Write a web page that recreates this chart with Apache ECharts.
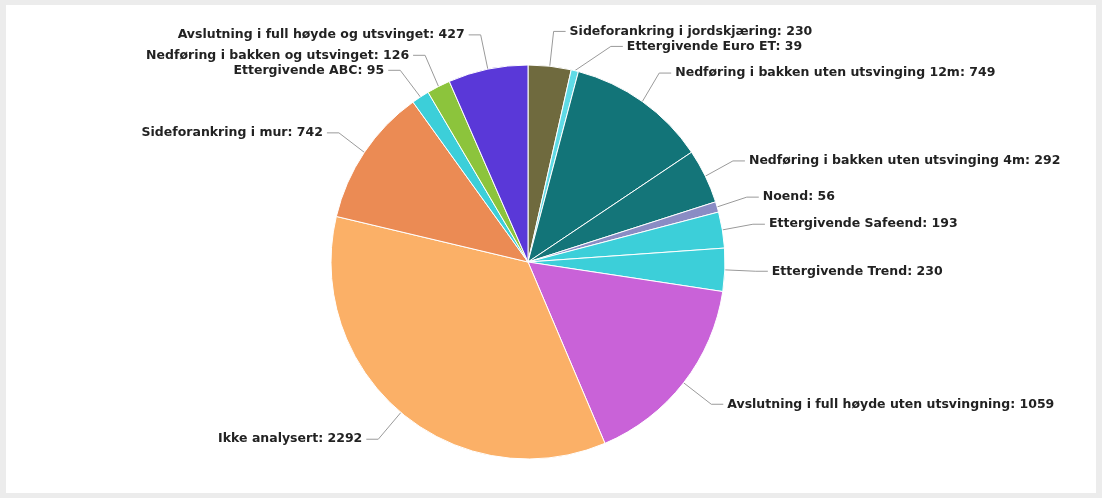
<!DOCTYPE html>
<html>
<head>
<meta charset="utf-8">
<script src="https://cdn.jsdelivr.net/npm/echarts@6/dist/echarts.min.js"></script>
<style>
  html, body { margin: 0; padding: 0; background: #ececec; }
  #chart { position: absolute; left: 6px; top: 5px; width: 1090px; height: 488px; background: #ffffff; }
</style>
</head>
<body>
<div id="chart"></div>
<script>
// Guardrail types, clockwise from 12 o'clock
const categories = [
  'Sideforankring i jordskjæring',
  'Ettergivende Euro ET',
  'Nedføring i bakken uten utsvinging 12m',
  'Nedføring i bakken uten utsvinging 4m',
  'Noend',
  'Ettergivende Safeend',
  'Ettergivende Trend',
  'Avslutning i full høyde uten utsvingning',
  'Ikke analysert',
  'Sideforankring i mur',
  'Ettergivende ABC',
  'Nedføring i bakken og utsvinget',
  'Avslutning i full høyde og utsvinget'
];
const counts = [230, 39, 749, 292, 56, 193, 230, 1059, 2292, 742, 95, 126, 427];
const colors = [
  '#6f6a3e', '#5fdbe6', '#127478', '#147579', '#8a8cc4', '#3ccfd9', '#3ccfd9',
  '#c962d8', '#fbb067', '#eb8b54', '#3ccfd9', '#8cc43c', '#5a38d8'
];

const chart = echarts.init(document.getElementById('chart'));
chart.setOption({
  animation: false,
  series: [{
    type: 'pie',
    center: [522, 257],
    radius: 197,
    startAngle: 90,
    clockwise: true,
    avoidLabelOverlap: true,
    itemStyle: { borderColor: '#ffffff', borderWidth: 1 },
    label: {
      formatter: '{b}: {c}',
      color: '#222222',
      fontFamily: 'DejaVu Sans, Verdana, sans-serif',
      fontWeight: 'bold',
      fontSize: 12.5,
      distanceToLabelLine: 4
    },
    labelLine: {
      length: 35,
      length2: 12,
      lineStyle: { color: '#9a9a9a', width: 1 }
    },
    data: categories.map((name, i) => ({
      name: name,
      value: counts[i],
      itemStyle: { color: colors[i] }
    }))
  }]
});
</script>
</body>
</html>
